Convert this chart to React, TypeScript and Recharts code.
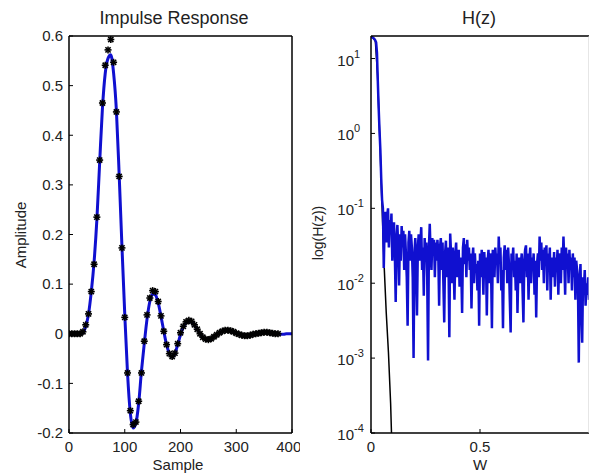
import React from "react"
import { ComposedChart, LineChart, Line, Scatter, XAxis, YAxis } from "recharts"

// ---- Impulse response (left) ----
const sampleTicks = [0, 100, 200, 300, 400]
const ampTicks = [-0.2, -0.1, 0, 0.1, 0.2, 0.3, 0.4, 0.5, 0.6]

// blue curve, one value every 5 samples from 0 to 400
const responseSamples = [
  0, 5, 10, 15, 20, 25, 30, 35, 40, 45, 50, 55, 60, 65, 70, 75, 80, 85, 90, 95,
  100, 105, 110, 115, 120, 125, 130, 135, 140, 145, 150, 155, 160, 165, 170, 175, 180, 185, 190, 195,
  200, 205, 210, 215, 220, 225, 230, 235, 240, 245, 250, 255, 260, 265, 270, 275, 280, 285, 290, 295,
  300, 305, 310, 315, 320, 325, 330, 335, 340, 345, 350, 355, 360, 365, 370, 375, 380, 385, 390, 395, 400,
]
const responseValues = [
  0, 0, 0, 0, 0, 0.002, 0.015, 0.04, 0.085, 0.145, 0.23, 0.345, 0.455, 0.525, 0.555, 0.562, 0.525, 0.45, 0.32, 0.175,
  0.04, -0.08, -0.16, -0.19, -0.18, -0.14, -0.075, -0.02, 0.03, 0.065, 0.08, 0.078, 0.062, 0.035, 0.005, -0.022, -0.04, -0.047, -0.04, -0.022,
  -0.002, 0.013, 0.022, 0.025, 0.023, 0.017, 0.009, 0, -0.007, -0.011, -0.012, -0.01, -0.006, -0.002, 0.002, 0.005, 0.007, 0.007, 0.006, 0.004,
  0.001, -0.001, -0.003, -0.004, -0.004, -0.003, -0.001, 0, 0.001, 0.002, 0.003, 0.003, 0.002, 0.001, 0, 0, -0.001, -0.001, 0, 0, 0,
]
// black asterisks, every 5 samples up to 375
const starValues = [
  0, 0, 0, 0, 0, 0.004, 0.018, 0.04, 0.085, 0.14, 0.235, 0.35, 0.465, 0.541, 0.572, 0.593, 0.547, 0.447, 0.317, 0.173,
  0.033, -0.079, -0.155, -0.183, -0.178, -0.136, -0.079, -0.015, 0.038, 0.072, 0.087, 0.085, 0.065, 0.036, 0.005, -0.022, -0.04, -0.046, -0.039, -0.02,
  0.002, 0.015, 0.024, 0.027, 0.025, 0.018, 0.009, 0, -0.007, -0.011, -0.012, -0.01, -0.006, -0.002, 0.002, 0.005, 0.007, 0.007, 0.006, 0.004,
  0.001, -0.001, -0.003, -0.004, -0.004, -0.003, -0.001, 0, 0.001, 0.002, 0.003, 0.003, 0.002, 0.001, 0, 0,
]

// ---- H(z) (right) ----
const wTicks = [0, 0.5]
const wTopTicks = [0, 0.5, 1]
const decadeTicks = [1e-4, 1e-3, 1e-2, 1e-1, 1, 10]
const minorTicks = [
  2e-4, 3e-4, 4e-4, 5e-4, 6e-4, 7e-4, 8e-4, 9e-4,
  2e-3, 3e-3, 4e-3, 5e-3, 6e-3, 7e-3, 8e-3, 9e-3,
  2e-2, 3e-2, 4e-2, 5e-2, 6e-2, 7e-2, 8e-2, 9e-2,
  0.2, 0.3, 0.4, 0.5, 0.6, 0.7, 0.8, 0.9,
  2, 3, 4, 5, 6, 7, 8, 9,
]
// |H| sampled at W = i/256, i = 0..256
const hzMagnitude = [
  19.5, 19.3, 19, 18.7, 18.2, 17.5, 16.5, 12, 5, 2.2, 1.1, 0.6, 0.25, 0.13, 0.1, 0.016,
  0.06, 0.09, 0.035, 0.08, 0.1, 0.03, 0.07, 0.045, 0.085, 0.02,
  0.05, 0.065, 0.025, 0.0056, 0.04, 0.06, 0.03, 0.0093, 0.045, 0.02,
  0.058, 0.03, 0.05, 0.015, 0.045, 0.025, 0.012, 0.0027, 0.035, 0.05,
  0.02, 0.045, 0.03, 0.012, 0.001, 0.025, 0.04, 0.018, 0.0037, 0.03,
  0.045, 0.02, 0.035, 0.056, 0.015, 0.03, 0.0068, 0.04, 0.02, 0.035,
  0.012, 0.00093, 0.03, 0.062, 0.025, 0.015, 0.04, 0.028, 0.038, 0.012,
  0.035, 0.02, 0.038, 0.025, 0.005, 0.03, 0.04, 0.015, 0.035, 0.01,
  0.003, 0.025, 0.037, 0.012, 0.03, 0.02, 0.0019, 0.046, 0.025, 0.01,
  0.03, 0.018, 0.006, 0.025, 0.035, 0.012, 0.02, 0.028, 0.009, 0.022,
  0.015, 0.004, 0.03, 0.04, 0.018, 0.033, 0.012, 0.038, 0.02, 0.03,
  0.015, 0.025, 0.0046, 0.02, 0.03, 0.01, 0.025, 0.014, 0.018, 0.008,
  0.02, 0.0027, 0.025, 0.012, 0.028, 0.018, 0.007, 0.026, 0.015, 0.022,
  0.0037, 0.02, 0.028, 0.01, 0.025, 0.015, 0.0025, 0.028, 0.02, 0.012,
  0.03, 0.018, 0.025, 0.01, 0.042, 0.02, 0.03, 0.008, 0.015, 0.0025,
  0.022, 0.032, 0.015, 0.028, 0.01, 0.03, 0.018, 0.006, 0.0022, 0.025,
  0.018, 0.03, 0.012, 0.02, 0.008, 0.025, 0.004, 0.015, 0.022, 0.01,
  0.018, 0.025, 0.008, 0.003, 0.02, 0.028, 0.032, 0.012, 0.025, 0.006,
  0.02, 0.03, 0.01, 0.022, 0.015, 0.025, 0.007, 0.02, 0.0035, 0.018,
  0.025, 0.012, 0.042, 0.02, 0.035, 0.015, 0.028, 0.01, 0.03, 0.02,
  0.032, 0.008, 0.025, 0.015, 0.03, 0.006, 0.022, 0.018, 0.012, 0.026,
  0.009, 0.022, 0.014, 0.028, 0.007, 0.02, 0.025, 0.01, 0.03, 0.015,
  0.042, 0.02, 0.007, 0.03, 0.018, 0.025, 0.01, 0.028, 0.015, 0.022,
  0.008, 0.025, 0.012, 0.022, 0.006, 0.02, 0.015, 0.01, 0.00087, 0.012,
  0.018, 0.004, 0.0016, 0.012, 0.008, 0.015, 0.005, 0.01, 0.007, 0.012,
  0.006,
]
// ideal (black) response
const idealW = [0, 0.01, 0.02, 0.03, 0.04, 0.05, 0.06, 0.07, 0.08, 0.09, 0.094]
const idealMag = [19.5, 19, 17, 6, 0.9, 0.12, 0.018, 0.004, 0.0012, 0.00025, 0.0001]

const lineData = responseSamples.map((x, i) => ({ x, y: responseValues[i] }))
const starData = starValues.map((y, i) => ({ x: responseSamples[i], y }))
const hzData = hzMagnitude.map((mag, i) => ({ w: i / 256, mag }))
const idealData = idealW.map((w, i) => ({ w, mag: idealMag[i] }))

const BLUE = "#1010d0"
const TEXT = "#222"
const FONT = '"Liberation Sans", Arial, Helvetica, sans-serif'

function Asterisk(props: any) {
  const { cx, cy } = props
  if (cx == null || cy == null) return <g />
  const r = 3.5
  const d = 2.6
  return (
    <g stroke="#000" strokeWidth={1.6}>
      <line x1={cx - r} y1={cy} x2={cx + r} y2={cy} />
      <line x1={cx} y1={cy - r} x2={cx} y2={cy + r} />
      <line x1={cx - d} y1={cy - d} x2={cx + d} y2={cy + d} />
      <line x1={cx - d} y1={cy + d} x2={cx + d} y2={cy - d} />
    </g>
  )
}

function LogTick(props: any) {
  const { x, y, payload } = props
  const exp = Math.round(Math.log10(payload.value))
  return (
    <g fill={TEXT} fontFamily={FONT}>
      <text x={x} y={y + 7} fontSize={15} textAnchor="end">10</text>
      <text x={x} y={y - 1} fontSize={11} textAnchor="start">{exp}</text>
    </g>
  )
}

const axisLine = { stroke: "#000", strokeWidth: 1.5 }

export default function App() {
  return (
    <div
      style={{
        position: "absolute",
        left: 0,
        top: 0,
        width: 589,
        height: 475,
        overflow: "hidden",
        background: "#fff",
        fontFamily: FONT,
      }}
    >
      <div style={{ position: "absolute", left: 0, top: 0 }}>
        <ComposedChart width={300} height={475} margin={{ top: 35, right: 7, bottom: 41, left: 68 }}>
          <XAxis
            type="number"
            dataKey="x"
            domain={[0, 400]}
            ticks={sampleTicks}
            allowDataOverflow
            height={1}
            stroke="#000"
            axisLine={axisLine}
            tickSize={-4}
            tickMargin={12}
            tick={{ fontSize: 15, fill: TEXT }}
          />
          <XAxis
            xAxisId="top"
            orientation="top"
            type="number"
            domain={[0, 400]}
            ticks={sampleTicks}
            allowDataOverflow
            height={1}
            stroke="#000"
            axisLine={axisLine}
            tickSize={-4}
            tick={false}
          />
          <YAxis
            type="number"
            domain={[-0.2, 0.6]}
            ticks={ampTicks}
            allowDataOverflow
            width={1}
            stroke="#000"
            axisLine={axisLine}
            tickSize={-4}
            tickMargin={10}
            tickFormatter={(v: number) => String(v)}
            tick={{ fontSize: 15, fill: TEXT }}
          />
          <YAxis
            yAxisId="right"
            orientation="right"
            type="number"
            domain={[-0.2, 0.6]}
            ticks={ampTicks}
            allowDataOverflow
            width={1}
            stroke="#000"
            axisLine={axisLine}
            tickSize={-4}
            tick={false}
          />
          <Line
            data={lineData}
            dataKey="y"
            type="monotone"
            stroke={BLUE}
            strokeWidth={3}
            dot={false}
            isAnimationActive={false}
          />
          <Scatter data={starData} dataKey="y" shape={Asterisk} isAnimationActive={false} />
        </ComposedChart>
      </div>

      <div style={{ position: "absolute", left: 300, top: 0 }}>
        <LineChart width={289} height={475} margin={{ top: 35, right: -1, bottom: 41, left: 69 }}>
          <XAxis
            type="number"
            dataKey="w"
            domain={[0, 1]}
            ticks={wTicks}
            allowDataOverflow
            height={1}
            stroke="#000"
            axisLine={axisLine}
            tickSize={-4}
            tickMargin={12}
            tick={{ fontSize: 15, fill: TEXT }}
          />
          <XAxis
            xAxisId="top"
            orientation="top"
            type="number"
            domain={[0, 1]}
            ticks={wTopTicks}
            allowDataOverflow
            height={1}
            stroke="#000"
            axisLine={axisLine}
            tickSize={-4}
            tick={false}
          />
          <YAxis
            type="number"
            scale="log"
            domain={[1e-4, 20]}
            ticks={decadeTicks}
            allowDataOverflow
            width={1}
            stroke="#000"
            axisLine={axisLine}
            tickSize={-4}
            tickMargin={21}
            tick={<LogTick />}
          />
          <YAxis
            yAxisId="minor"
            type="number"
            scale="log"
            domain={[1e-4, 20]}
            ticks={minorTicks}
            allowDataOverflow
            width={1}
            stroke="#000"
            axisLine={false}
            tickSize={-2}
            tick={false}
          />
          <YAxis
            yAxisId="right"
            orientation="right"
            type="number"
            scale="log"
            domain={[1e-4, 20]}
            ticks={decadeTicks}
            allowDataOverflow
            width={1}
            stroke="#ccc"
            tickSize={-4}
            tick={false}
          />
          <Line
            data={idealData}
            dataKey="mag"
            type="linear"
            stroke="#000"
            strokeWidth={1.5}
            dot={false}
            isAnimationActive={false}
          />
          <Line
            data={hzData}
            dataKey="mag"
            type="linear"
            stroke={BLUE}
            strokeWidth={2.5}
            dot={false}
            isAnimationActive={false}
          />
        </LineChart>
      </div>

      <svg
        width={589}
        height={475}
        style={{ position: "absolute", left: 0, top: 0, pointerEvents: "none" }}
        fontFamily={FONT}
        fill={TEXT}
      >
        <text x={174} y={24} fontSize={18} textAnchor="middle">Impulse Response</text>
        <text x={479} y={24} fontSize={18} textAnchor="middle">H(z)</text>
        <text x={178} y={470} fontSize={15} textAnchor="middle">Sample</text>
        <text x={480} y={470} fontSize={15} textAnchor="middle">W</text>
        <text transform="translate(25.5,235) rotate(-90)" fontSize={15} textAnchor="middle">Amplitude</text>
        <text transform="translate(323,233) rotate(-90)" fontSize={14} textAnchor="middle">log(H(z))</text>
      </svg>
    </div>
  )
}
